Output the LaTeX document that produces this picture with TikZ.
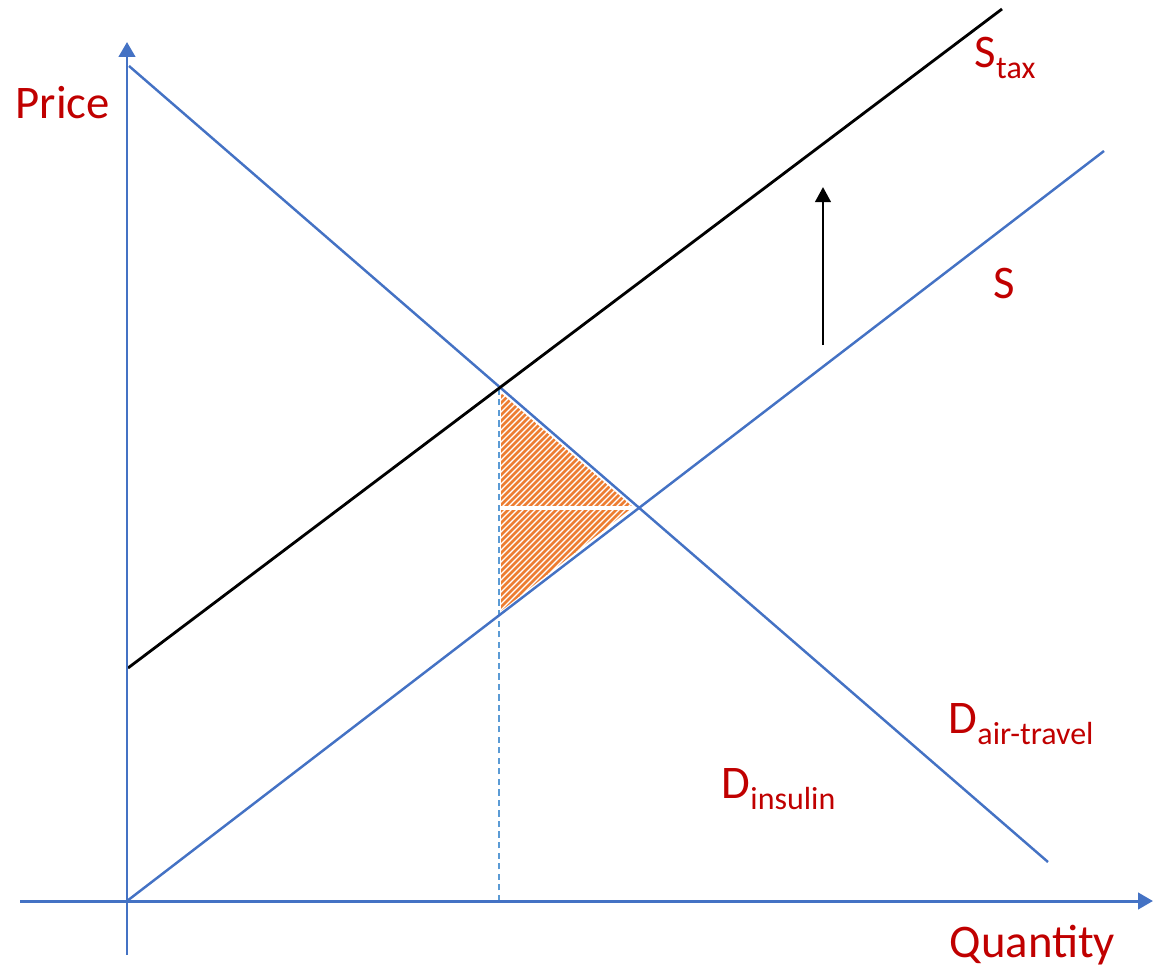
\documentclass[tikz,border=0pt]{standalone}
\usepackage{fontspec}
\setmainfont{Carlito}
\usepackage{xcolor}
\usetikzlibrary{arrows.meta}

\definecolor{axisblue}{HTML}{4472C4}
\definecolor{dashblue}{HTML}{5B9BD5}
\definecolor{lblred}{HTML}{C00000}
\definecolor{hatchorange}{HTML}{ED7D31}

\newcommand{\lblsub}[2]{#1\raisebox{-3.4pt}{\fontsize{9.1}{11}\selectfont #2}}

\begin{document}
\begin{tikzpicture}[
    x=0.1mm, y=-0.1mm,
    axis/.style={draw=axisblue, line width=0.85pt, -{Triangle[length=4.2pt,width=4.6pt]}},
    curve/.style={draw=axisblue, line width=0.7pt},
    taxcurve/.style={draw=black, line width=0.8pt},
    shift arr/.style={draw=black, line width=0.8pt, -{Triangle[length=4.3pt,width=4.4pt]}},
    guide/.style={draw=dashblue, line width=0.5pt, dash pattern=on 1.8pt off 1.2pt},
    lbl/.style={text=lblred, font=\fontsize{13.3}{15}\selectfont, inner sep=0pt, anchor=base west}
]
\useasboundingbox (0,0) rectangle (1153,966);

%% Axes
\coordinate (ybot) at (127,955);
\coordinate (ytop) at (127,42);
\coordinate (xleft) at (20,901);
\coordinate (xright) at (1153,901);

%% Curve end points
\coordinate (O) at (127,901);
\coordinate (dtop) at (129,66);
\coordinate (dbot) at (1048,862);
\coordinate (send) at (1104,151);
\coordinate (tstart) at (128,668);
\coordinate (tend) at (1002,9);

%% Equilibria
\coordinate (etax) at (499,388);
\coordinate (eq) at (639,508);
\coordinate (qfoot) at (499,901);

%% Deadweight loss (hatched)
\begin{scope}
  \clip (501,393) -- (633,507) -- (501,611) -- cycle;
  \foreach \k in {-300,-294,...,700}
    \draw[hatchorange, line width=0.8pt] (\k,700) -- ++(400,-400);
\end{scope}
\draw[white, line width=1pt] (500,508) -- (eq);

%% Guide line
\draw[guide] (qfoot) -- (etax);

%% Curves
\draw[curve] (dtop) -- (dbot);
\draw[curve] (O) -- (send);
\draw[taxcurve] (tstart) -- (tend);

\draw[axis] (ybot) -- (ytop);
\draw[axis] (xleft) -- (xright);

%% Shift of supply
\coordinate (arrfoot) at (823,345);
\coordinate (arrtip) at (823,187);
\draw[shift arr] (arrfoot) -- (arrtip);

%% Labels
\node[lbl] (price) at (15,118) {Price};
\node[lbl] (qty) at (949,957) {Quantity};
\node[lbl] (stax) at (974,67) {\lblsub{S}{tax}};
\node[lbl] (s) at (993,298) {S};
\node[lbl] (dair) at (948,733) {\lblsub{D}{air-travel}};
\node[lbl] (dins) at (721,798) {\lblsub{D}{insulin}};

\end{tikzpicture}
\end{document}
